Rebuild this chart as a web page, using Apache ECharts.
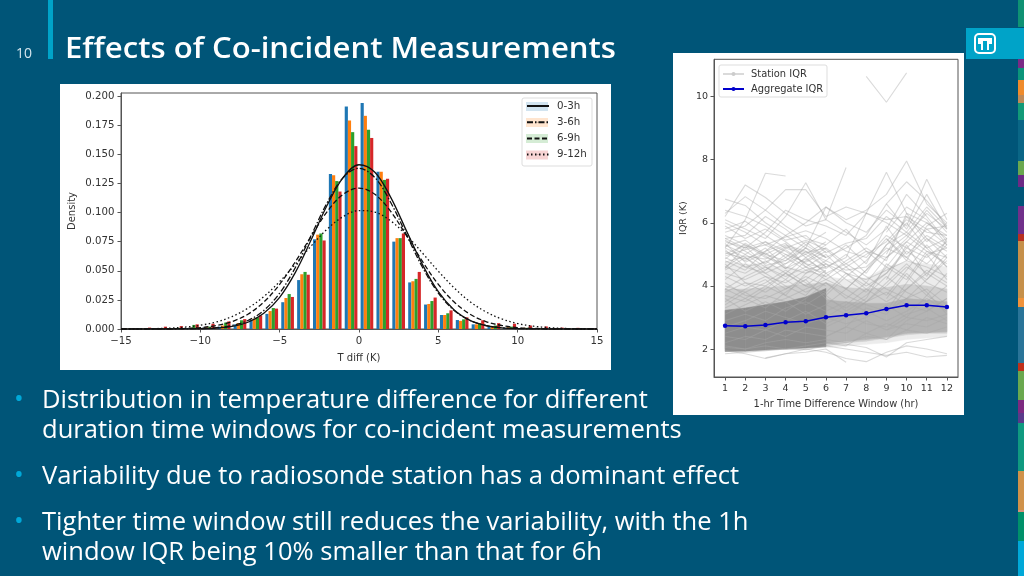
<!DOCTYPE html>
<html><head><meta charset="utf-8">
<style>html,body{margin:0;padding:0;background:#005578}#c{width:1024px;height:576px}</style>
<script src="https://cdn.jsdelivr.net/npm/echarts@6/dist/echarts.min.js"></script>
</head><body><div id="c"></div>
<script>
const titleText = 'Effects of Co-incident Measurements';
const slideNumber = '10';
const bulletLines = [
  ['Distribution in temperature difference for different', 400.5, true],
  ['duration time windows for co-incident measurements', 431, false],
  ['Variability due to radiosonde station has a dominant effect', 476.5, true],
  ['Tighter time window still reduces the variability, with the 1h', 522.5, true],
  ['window IQR being 10% smaller than that for 6h', 553, false]
];
const binCenters = [-14.5,-13.5,-12.5,-11.5,-10.5,-9.5,-8.5,-7.5,-6.5,-5.5,-4.5,-3.5,-2.5,-1.5,-0.5,0.5,1.5,2.5,3.5,4.5,5.5,6.5,7.5,8.5,9.5,10.5,11.5,12.5,13.5,14.5];
const hist0to3 = [.0001,.0001,.0002,.0003,.0006,.001,.002,.004,.0077,.013,.023,.042,.077,.133,.191,.194,.135,.075,.040,.021,.012,.0077,.004,.002,.001,.0005,.0003,.0001,.0001,0];
const hist3to6 = [.0001,.0002,.0003,.0005,.001,.0015,.003,.005,.0089,.0154,.0266,.047,.081,.132,.179,.183,.135,.078,.041,.0215,.012,.007,.004,.0025,.0015,.001,.0004,.0002,.0001,.0001];
const hist6to9 = [.0002,.0003,.0005,.001,.0035,.002,.0055,.0075,.010,.018,.030,.049,.082,.127,.169,.171,.128,.078,.043,.024,.0135,.0083,.005,.003,.002,.001,.0006,.0003,.0002,.0001];
const hist9to12 = [.0005,.0012,.002,.0025,.004,.0045,.0065,.0085,.0117,.0175,.0275,.0466,.076,.118,.157,.164,.129,.082,.049,.027,.016,.010,.0075,.005,.0045,.003,.0022,.0012,.001,.0003];
const curveX = [-15,-14,-13,-12,-11,-10,-9,-8,-7,-6,-5,-4,-3,-2,-1,0,1,2,3,4,5,6,7,8,9,10,11,12,13,14,15];
const curve0to3 = [0,0,0,0,.0001,.0002,.0007,.0022,.0058,.0135,.0272,.0488,.0770,.1065,.1300,.1410,.1345,.1130,.0840,.0553,.0320,.0163,.0074,.0029,.0010,.0003,.0001,0,0,0,0];
const curve3to6 = [0,0,0,0,.0001,.0004,.0011,.0030,.0073,.0159,.0308,.0530,.0807,.1086,.1300,.1380,.1300,.1086,.0807,.0530,.0308,.0159,.0073,.0030,.0011,.0004,.0001,0,0,0,0];
const curve6to9 = [0,0,.0001,.0002,.0005,.0012,.0030,.0064,.0127,.0231,.0383,.0580,.0799,.1009,.1156,.1210,.1156,.1009,.0799,.0580,.0383,.0231,.0127,.0064,.0030,.0012,.0005,.0002,.0001,0,0];
const curve9to12 = [.00005,.00013,.00031,.00073,.0016,.0032,.006,.0107,.0179,.0278,.0407,.0557,.0715,.0858,.0965,.1017,.1004,.0928,.0804,.0652,.0496,.0353,.0234,.0147,.0086,.0047,.0024,.0012,.0005,.0002,.0001];
const densityTicks = [0,.025,.05,.075,.1,.125,.15,.175,.2];
const hours = [1,2,3,4,5,6,7,8,9,10,11,12];
const iqrTicks = [2,4,6,8,10];
const aggregateIqr = [2.74,2.72,2.76,2.85,2.88,3.01,3.07,3.13,3.27,3.39,3.39,3.33];
const lightLow = [1.95,1.95,1.98,2.0,2.02,2.05,2.1,2.15,2.2,2.3,2.35,2.4];
const lightHigh = [4.75,4.7,4.65,4.6,4.5,4.3,4.2,4.25,4.6,4.75,4.7,4.6];
const haloHours = [1,2,3,4,5,6,7,8,9,10,11,12];
const haloLow = [2.0,2.0,2.0,2.05,2.05,2.1,2.2,2.25,2.35,2.45,2.5,2.5];
const haloHigh = [3.9,3.9,3.95,4.0,4.05,4.1,3.95,3.9,3.95,4.05,4.0,3.9];
const midHours = [6,7,8,9,10,11,12];
const midLow = [2.18,2.25,2.3,2.38,2.5,2.52,2.55];
const midHigh = [3.55,3.5,3.45,3.45,3.6,3.55,3.5];
const coreHours = [1,2,3,4,5,6];
const coreLow = [1.92,1.93,1.97,2.0,2.03,2.07];
const coreHigh = [3.23,3.3,3.4,3.5,3.65,3.92];
const stationRows = [
 [null,null,null,null,null,null,null,10.64,9.82,10.75,null,null],
 [5.2,6.1,7.57,7.48,null,null,null,null,null,null,null,null],
 [6.75,6.55,6.0,5.6,5.2,4.7,4.4,4.2,4.5,4.8,4.6,4.3],
 [6.3,6.83,6.4,5.9,5.5,5.3,5.8,5.1,4.9,5.4,6.0,5.6],
 [6.2,7.2,6.8,6.3,5.9,6.1,5.7,5.3,5.8,6.9,6.2,5.4],
 [5.7,5.9,6.4,7.05,7.05,6.2,6.5,6.3,6.0,5.6,5.1,4.9],
 [6.1,5.8,5.5,6.2,7.27,6.1,7.75,null,null,null,null,null],
 [5.4,5.2,5.7,6.4,6.1,5.9,5.6,6.3,7.6,6.3,5.5,5.1],
 [5.0,5.3,4.9,4.7,5.2,6.5,6.1,6.4,6.9,7.96,6.6,6.0],
 [4.8,4.5,5.1,5.6,6.0,6.5,6.0,5.7,6.4,5.9,7.38,6.1],
 [5.5,5.6,6.2,5.8,5.3,4.9,5.2,5.6,6.6,7.3,6.7,5.9],
 [4.9,4.6,4.4,4.7,5.0,4.6,4.9,6.3,6.1,6.2,5.8,5.9],
 [4.6,5.0,5.4,5.1,4.7,4.3,4.8,5.2,4.8,6.3,6.0,5.5],
 [4.4,4.2,4.5,5.0,4.6,4.2,3.9,4.5,5.1,5.6,6.3,5.8],
 [5.3,5.0,4.6,4.3,4.6,5.0,4.4,4.0,4.4,5.2,4.9,5.4],
 [4.2,4.7,4.3,3.9,4.2,4.7,4.2,3.8,4.6,4.2,5.1,4.7],
 [4.0,3.8,4.1,4.5,4.1,3.7,4.3,4.8,5.5,4.9,4.4,5.0],
 [3.9,4.3,4.6,4.2,3.8,4.1,3.6,4.1,3.7,4.5,5.3,4.6],
 [4.7,4.1,3.8,4.2,4.8,5.2,4.7,4.3,3.9,3.6,4.2,4.8],
 [3.7,3.5,3.9,4.4,4.9,4.4,3.9,3.5,4.1,4.7,4.1,3.8],
 [3.5,3.9,4.2,3.7,3.4,3.8,4.4,3.9,3.5,3.9,4.5,4.1],
 [3.3,3.6,3.3,3.8,4.2,3.6,3.3,3.7,4.3,3.8,3.5,4.0],
 [3.6,3.2,3.5,3.2,3.6,4.1,3.7,3.4,3.2,3.6,3.9,3.4],
 [3.1,3.4,3.7,3.5,3.1,3.4,3.1,3.5,3.8,3.4,3.2,3.6],
 [2.9,3.1,2.9,3.3,3.5,3.2,3.5,3.2,2.9,3.2,3.6,3.2],
 [2.7,2.9,3.2,3.0,2.8,3.0,2.8,3.0,3.4,3.0,2.9,3.1],
 [2.5,2.7,2.6,2.9,3.2,2.8,3.1,2.8,2.7,3.1,3.3,2.9],
 [2.4,2.3,2.6,2.4,2.7,2.6,2.5,2.9,2.6,2.8,2.7,3.0],
 [2.2,2.4,2.3,2.6,2.5,2.4,2.7,2.5,2.8,2.6,3.0,2.8],
 [2.1,2.0,2.2,2.3,2.2,2.3,2.2,2.4,2.3,2.6,2.5,2.7],
 [1.85,1.9,1.95,2.0,1.98,2.1,2.0,1.9,1.8,1.9,1.75,1.8],
 [1.95,1.85,1.7,1.85,2.0,1.9,1.7,1.6,1.9,2.1,2.0,1.85],
 [2.05,2.0,2.1,2.0,2.1,2.2,2.15,2.05,1.75,2.2,2.3,2.4],
 [null,null,1.72,1.85,1.9,2.0,1.58,null,null,null,null,null],
 [5.6,5.3,5.0,4.8,5.3,5.7,null,null,null,null,null,null],
 [5.9,5.5,5.8,5.4,4.9,5.3,null,null,null,null,null,null],
 [5.1,4.8,5.2,4.6,4.4,4.8,null,null,null,null,null,null],
 [4.5,4.9,4.5,4.9,5.4,4.9,null,null,null,null,null,null],
 [4.3,4.0,4.3,4.1,4.5,4.3,null,null,null,null,null,null],
 [3.8,4.1,4.0,4.4,4.0,4.5,null,null,null,null,null,null],
 [4.1,3.7,3.6,3.9,4.3,4.0,null,null,null,null,null,null],
 [3.4,3.8,3.4,3.6,3.9,4.2,null,null,null,null,null,null],
 [4.6,4.4,4.8,4.4,4.0,3.8,null,null,null,null,null,null],
 [5.2,4.9,4.4,4.0,3.7,4.4,null,null,null,null,null,null],
 [3.9,3.6,4.0,3.7,4.4,4.6,null,null,null,null,null,null],
 [5.45,5.1,4.7,5.2,5.0,5.4,null,null,null,null,null,null],
 [5.5,5.2,5.4,4.9,4.5,4.7,null,null,null,null,null,null],
 [5.25,5.45,5.0,5.3,5.1,4.6,null,null,null,null,null,null],
 [4.95,5.15,5.3,5.0,4.75,5.1,null,null,null,null,null,null],
 [4.75,4.95,4.85,5.25,5.05,5.2,null,null,null,null,null,null],
 [5.35,4.75,5.05,4.55,4.85,4.45,null,null,null,null,null,null],
 [4.55,5.25,4.65,4.8,5.2,4.9,null,null,null,null,null,null],
 [5.05,4.85,5.1,5.35,4.6,4.4,4.7,5.1,4.6,5.4,5.0,5.2],
 [4.85,5.35,4.95,4.55,5.1,4.8,4.5,4.6,5.2,4.9,5.5,4.9],
 [5.15,4.6,4.75,5.15,4.7,4.55,5.0,4.4,5.3,5.7,5.2,5.5],
 [6.0,5.7,5.3,5.55,5.75,5.5,5.1,4.9,5.6,5.2,5.8,5.3],
 [5.8,6.05,5.6,5.2,5.45,5.15,4.6,5.0,5.4,6.1,5.7,5.6],
 [6.4,6.2,5.9,5.45,5.6,5.05,5.35,5.5,6.2,5.7,6.5,5.85],
 [null,null,null,null,null,3.4,3.9,4.5,5.3,6.0,5.2,4.6],
 [null,null,null,null,null,4.2,4.6,4.1,4.9,5.5,6.4,5.7],
 [null,null,null,null,null,3.0,3.4,3.9,4.4,5.1,4.7,5.3],
 [null,null,null,null,null,2.7,3.0,3.5,4.0,4.6,4.2,4.9],
 [null,null,null,null,null,4.8,5.3,4.7,5.9,5.0,5.6,5.2],
 [null,null,null,null,null,2.4,2.7,3.3,3.1,3.9,4.4,4.0],
 [null,null,null,null,null,2.2,2.1,2.5,2.3,2.9,3.2,3.6],
 [null,null,null,null,null,3.7,3.2,3.6,4.7,4.3,3.7,4.4],
 [null,null,null,null,null,null,null,null,5.0,6.2,5.4,6.0],
 [null,null,null,null,null,null,null,null,6.6,5.8,6.9,5.8],
 [null,null,null,null,null,null,null,null,3.2,4.1,5.0,4.2],
 [null,null,null,null,null,null,null,null,4.2,5.3,4.3,5.5],
 [null,null,null,null,null,null,null,null,2.6,3.0,3.7,3.3],
 [null,null,null,null,null,null,null,null,3.6,4.4,3.8,3.1],
 [null,null,null,null,null,null,null,null,5.7,6.5,6.1,5.3],
 [null,null,null,null,null,null,null,null,5.5,4.8,5.9,6.3]
];
const stripeStops = [
 [0,27,'#0f9273'],[59,68,'#7a2a86'],[68,80,'#0c957a'],[80,95,'#ef8b2c'],[95,103,'#bf8a58'],[103,120,'#129a78'],
 [120,161,'#0a6686'],[161,175,'#6aa84f'],[175,187,'#6d2a85'],[206,234,'#70308a'],[234,241,'#b83020'],[241,298,'#c6904a'],
 [298,307,'#f0923a'],[307,363,'#2a7498'],[363,371,'#c0301a'],[371,400,'#6aa84f'],[400,413,'#7d2a80'],[413,423,'#5a3a8a'],
 [423,471,'#109a80'],[471,510,'#d0924a'],[510,512,'#d8907a'],[512,541,'#00916a'],[541,576,'#00a8d8']
];

const TXT = '#333333', AX = '#555555';
const pairs = (xs, ys) => xs.map((x, i) => [x, ys[i]]);
const gfx = [
 {type:'rect',z:-5,shape:{x:60,y:84,width:551,height:286},style:{fill:'#fff'}},
 {type:'rect',z:-5,shape:{x:673,y:53,width:291,height:362},style:{fill:'#fff'}},
 {type:'rect',z:-5,shape:{x:48,y:0,width:5,height:59},style:{fill:'#00a3c8'}},
 {type:'text',style:{text:slideNumber,x:16,y:54,fill:'#d5e6ee',font:'14px "Open Sans"',textVerticalAlign:'middle'}},
 {type:'text',x:65,y:50,scaleX:1.11,style:{text:titleText,x:0,y:0,fill:'#fff',font:'600 28px "Open Sans"',textVerticalAlign:'middle'}}
];
stripeStops.forEach(s => gfx.push({type:'rect',z:-4,shape:{x:1018,y:s[0],width:6,height:s[1]-s[0]},style:{fill:s[2]}}));
gfx.push({type:'rect',z:-3,shape:{x:966,y:28,width:58,height:31},style:{fill:'#00a3c8'}});
gfx.push({type:'rect',z:-2,shape:{x:975,y:34,width:20,height:19,r:4},style:{fill:'none',stroke:'#fff',lineWidth:2}});
gfx.push({type:'polygon',z:-2,shape:{points:[[978,38],[992,38],[992,44],[989,44],[989,50],[987,50],[987,41],[983,41],[983,50],[981,50],[981,44],[978,44]]},style:{fill:'#fff'}});
bulletLines.forEach(b => {
  if (b[2]) gfx.push({type:'text',style:{text:'•',x:14,y:b[1]-1,fill:'#00a8d8',font:'26px "Open Sans"',textVerticalAlign:'middle'}});
  gfx.push({type:'text',style:{text:b[0],x:42,y:b[1],fill:'#fff',font:'25.55px "Open Sans"',textVerticalAlign:'middle'}});
});
gfx.push({type:'rect',z:-1,shape:{x:522,y:98,width:70,height:68,r:2},style:{fill:'#fff',stroke:'#dddddd',lineWidth:1}});
['#1f77b4','#ff7f0e','#2ca02c','#d62728'].forEach((c,i)=>gfx.push({type:'rect',z:-1,shape:{x:526,y:[102,118,134,150.5][i],width:22,height:9},style:{fill:c,opacity:.2}}));
gfx.push({type:'rect',z:3,shape:{x:719,y:65,width:108,height:32,r:2},style:{fill:'rgba(255,255,255,.85)',stroke:'#dddddd',lineWidth:1}});

const tick = {lineStyle:{color:AX,width:1},length:3.5};
const axLine = {onZero:false,lineStyle:{color:AX,width:1}};
const series = [];
[['hist 0-3h',hist0to3,'#1f77b4'],['hist 3-6h',hist3to6,'#ff7f0e'],['hist 6-9h',hist6to9,'#2ca02c'],['hist 9-12h',hist9to12,'#d62728']].forEach(h=>{
  series.push({type:'bar',name:h[0],xAxisIndex:0,yAxisIndex:0,data:pairs(binCenters,h[1]),barWidth:3.17,barGap:0,itemStyle:{color:h[2]},silent:true,z:2});
});
[['0-3h',curve0to3,'solid'],['3-6h',curve3to6,[6,2,1.5,2]],['6-9h',curve6to9,[5,2.5]],['9-12h',curve9to12,[1.5,2.5]]].forEach(c=>{
  series.push({type:'line',name:c[0],xAxisIndex:0,yAxisIndex:0,data:pairs(curveX,c[1]),smooth:.35,symbol:'none',lineStyle:{color:'#111',width:1.3,type:c[2]},itemStyle:{color:'#111'},silent:true,z:3});
});
const band = (nm,xs,low,high,col)=>{
  const rows = xs.map((x,i)=>[x,low[i],high[i]]);
  series.push({type:'custom',name:nm,xAxisIndex:1,yAxisIndex:1,data:rows,encode:{x:0,y:[1,2]},silent:true,z:1,
    renderItem:(p,api)=>{
      const n = rows[p.dataIndex+1];
      if(!n) return null;
      const pts=[api.coord([api.value(0),api.value(1)]),api.coord([n[0],n[1]]),api.coord([n[0],n[2]]),api.coord([api.value(0),api.value(2)])];
      return {type:'polygon',shape:{points:pts},style:{fill:col,stroke:col,lineWidth:.5}};
    }});
};
band('light',hours,lightLow,lightHigh,'#ececec');
band('halo',haloHours,haloLow,haloHigh,'#cfcfcf');
band('mid',midHours,midLow,midHigh,'#b4b4b4');
band('core',coreHours,coreLow,coreHigh,'#8d8d8d');
stationRows.forEach(r=>{
  series.push({type:'line',name:'Station IQR',xAxisIndex:1,yAxisIndex:1,data:pairs(hours,r),symbol:'none',connectNulls:false,lineStyle:{color:'#a8a8a8',width:1.1,opacity:.42},itemStyle:{color:'#ccc'},silent:true,z:2});
});
series.push({type:'line',name:'Aggregate IQR',xAxisIndex:1,yAxisIndex:1,data:pairs(hours,aggregateIqr),smooth:false,symbol:'circle',symbolSize:4.5,lineStyle:{color:'#0000cc',width:1.5},itemStyle:{color:'#0000cc'},silent:true,z:5});

const chart = echarts.init(document.getElementById('c'),null,{renderer:'canvas'});
chart.setOption({
 animation:false,
 backgroundColor:'#005578',
 graphic:gfx,
 grid:[
  {left:121,top:93,width:476,height:236,show:true,borderColor:AX,borderWidth:1,backgroundColor:'transparent'},
  {left:714,top:59.3,width:244,height:317.7,show:true,borderColor:AX,borderWidth:1,backgroundColor:'transparent'}
 ],
 xAxis:[
  {type:'value',gridIndex:0,min:-15,max:15,interval:5,splitLine:{show:false},axisLine:axLine,axisTick:tick,
   axisLabel:{color:TXT,fontSize:10.2,fontFamily:'DejaVu Sans',margin:7,formatter:v=>String(v).replace('-','\u2212')},
   name:'T diff (K)',nameLocation:'middle',nameGap:24,nameTextStyle:{color:TXT,fontSize:10,fontFamily:'DejaVu Sans'}},
  {type:'value',gridIndex:1,min:.45,max:12.55,splitLine:{show:false},axisLine:axLine,
   axisTick:{...tick,customValues:hours},
   axisLabel:{customValues:hours,color:TXT,fontSize:9.5,fontFamily:'DejaVu Sans',margin:7,showMinLabel:true,showMaxLabel:true},
   name:'1-hr Time Difference Window (hr)',nameLocation:'middle',nameGap:22,nameTextStyle:{color:TXT,fontSize:9.9,fontFamily:'DejaVu Sans'}}
 ],
 yAxis:[
  {type:'value',gridIndex:0,min:0,max:.2026,splitLine:{show:false},axisLine:axLine,
   axisTick:{...tick,customValues:densityTicks},
   axisLabel:{customValues:densityTicks,color:TXT,fontSize:10.2,fontFamily:'DejaVu Sans',margin:6.5,formatter:v=>v.toFixed(3)},
   name:'Density',nameLocation:'middle',nameGap:44,nameTextStyle:{color:TXT,fontSize:10,fontFamily:'DejaVu Sans'}},
  {type:'value',gridIndex:1,min:1.114,max:11.18,splitLine:{show:false},axisLine:axLine,
   axisTick:{...tick,customValues:iqrTicks},
   axisLabel:{customValues:iqrTicks,color:TXT,fontSize:9.5,fontFamily:'DejaVu Sans',margin:6},
   name:'IQR (K)',nameLocation:'middle',nameGap:25,nameTextStyle:{color:TXT,fontSize:9.5,fontFamily:'DejaVu Sans'}}
 ],
 legend:[
  {data:['0-3h','3-6h','6-9h','9-12h'],orient:'vertical',left:526,top:101,itemWidth:22,itemHeight:1,itemGap:6.2,selectedMode:false,
   textStyle:{color:TXT,fontSize:10.3,fontFamily:'DejaVu Sans',padding:[0,0,0,3]},padding:0},
  {data:['Station IQR','Aggregate IQR'],orient:'vertical',left:722,top:69,itemWidth:21,itemHeight:5,itemGap:5,selectedMode:false,
   textStyle:{color:TXT,fontSize:9.9,fontFamily:'DejaVu Sans',padding:[0,0,0,2]},padding:0,z:6}
 ],
 series
});
</script></body></html>
